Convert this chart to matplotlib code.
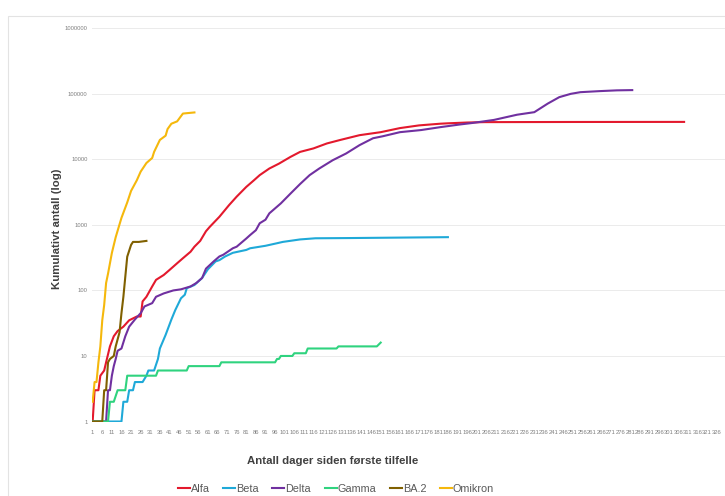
import numpy as np
import matplotlib.pyplot as plt
from matplotlib.patches import Rectangle

#------------------------------------------------------------------data
alfa_days = [1, 2, 4, 5, 7, 8, 10, 12, 14, 17, 20, 24, 26, 27, 29, 32, 34, 38, 41, 45, 48,
             52, 54, 57, 60, 62, 67, 72, 76, 81, 85, 88, 93, 98, 104, 109, 116, 123, 130,
             140, 151, 161, 171, 182, 186, 196, 205, 250, 309]
alfa_vals = [1, 3, 3, 5, 6, 8, 14, 20, 24, 28, 35, 40, 40, 68, 80, 115, 145, 172, 205, 260,
             310, 390, 465, 570, 800, 935, 1330, 2000, 2700, 3800, 4800, 5750, 7250, 8600,
             10900, 13000, 14700, 17500, 19800, 23400, 26000, 30000, 33000, 35000, 35500,
             36500, 37000, 37200, 37300]

beta_days = [1, 16, 17, 19, 20, 22, 23, 27, 29, 30, 33, 35, 36, 39, 42, 44, 47, 49, 50, 54,
             58, 61, 65, 67, 70, 74, 81, 83, 91, 97, 100, 109, 117, 135, 186]
beta_vals = [1, 1, 2, 2, 3, 3, 4, 4, 5, 6, 6, 9, 13, 21, 36, 50, 76, 86, 108, 121, 155, 210,
             277, 290, 330, 375, 415, 440, 480, 525, 550, 600, 625, 630, 650]

delta_days = [1, 8, 9, 10, 11, 12, 13, 14, 16, 18, 20, 23, 26, 28, 32, 34, 38, 43, 47, 52,
              55, 58, 60, 64, 67, 69, 74, 76, 81, 83, 86, 88, 91, 93, 99, 104, 109, 114, 119,
              126, 133, 140, 147, 152, 161, 172, 182, 192, 199, 210, 222, 231, 238, 244, 250,
              255, 265, 274, 282]
delta_vals = [1, 1, 3, 3, 5, 7, 9, 12, 13, 20, 28, 36, 45, 57, 64, 80, 90, 100, 104, 115,
              130, 155, 215, 277, 330, 350, 440, 465, 620, 700, 830, 1060, 1200, 1500, 2130,
              3000, 4200, 5750, 7250, 9700, 12300, 16500, 21000, 22500, 26000, 28000, 31000,
              34000, 36000, 40000, 48000, 52500, 71000, 89000, 100000, 106000, 110000,
              113000, 114000]

gamma_days = [1, 9, 10, 12, 14, 18, 19, 34, 35, 50, 51, 67, 68, 96, 97, 98, 99, 105, 106,
              112, 113, 128, 129, 149, 151]
gamma_vals = [1, 1, 2, 2, 3, 3, 5, 5, 6, 6, 7, 7, 8, 8, 9, 9, 10, 10, 11, 11, 13, 13, 14,
              14, 16]

ba2_days = [1, 6, 7, 8, 9, 10, 12, 13, 15, 16, 17, 18, 19, 21, 22, 25, 29]
ba2_vals = [1, 1, 3, 3, 8, 9, 10, 14, 23, 45, 80, 162, 327, 495, 550, 550, 570]

omikron_days = [1, 2, 3, 4, 5, 6, 7, 8, 9, 11, 13, 16, 19, 21, 24, 26, 29, 32, 33, 36, 39,
                40, 42, 45, 48, 51, 54]
omikron_vals = [2, 4, 4, 8, 14, 35, 60, 130, 180, 373, 650, 1280, 2200, 3300, 4800, 6500,
                8800, 10500, 13000, 19800, 23000, 29000, 35000, 38000, 50000, 51000, 52000]

series = [('Alfa', alfa_days, alfa_vals, '#e3192d'),
          ('Beta', beta_days, beta_vals, '#1fa9d8'),
          ('Delta', delta_days, delta_vals, '#7030a0'),
          ('Gamma', gamma_days, gamma_vals, '#2fd37f'),
          ('BA.2', ba2_days, ba2_vals, '#806000'),
          ('Omikron', omikron_days, omikron_vals, '#f5b80c')]

y_ticks = [1, 10, 100, 1000, 10000, 100000, 1000000]
x_ticks = list(range(1, 330, 5))

#----------------------------------------------------------------figure
fig = plt.figure(figsize=(7.25, 4.96), dpi=100)
plt.rcParams['font.family'] = ['Liberation Sans', 'DejaVu Sans']

# chart border
fig.patches.append(Rectangle((8/725, -0.1), 1.0, 1-16/496+0.1, transform=fig.transFigure,
                             fill=False, edgecolor='#e3e3e3', lw=0.8))

ax = fig.add_axes([91.7/725, 1-421.5/496, 1-91.7/725, (421.5-28.3)/496])

for name, d, v, c in series:
    ax.plot(d, v, color=c, lw=1.5, label=name)

ax.set_yscale('log')
ax.set_ylim(1, 1000000)
ax.set_xlim(0.5, 330.3)
ax.set_yticks(y_ticks)
ax.set_yticklabels([str(t) for t in y_ticks])
ax.minorticks_off()
ax.set_xticks(x_ticks)
ax.set_xticklabels([str(t) for t in x_ticks])
ax.tick_params(axis='both', length=0, labelsize=4.2, colors='#808080')
ax.tick_params(axis='y', pad=3)
ax.tick_params(axis='x', pad=6)

ax.grid(axis='y', color='#ebebeb', lw=0.7)
ax.set_axisbelow(True)
for s in ax.spines.values():
    s.set_visible(False)

#----------------------------------------------------------------labels
fig.text(57/725, 1-229/496, 'Kumulativt antall (log)', rotation=90, ha='center', va='center',
         fontsize=8.2, fontweight='bold', color='#404040')
fig.text(333/725, 1-461/496, 'Antall dager siden første tilfelle', ha='center', va='center',
         fontsize=8.2, fontweight='bold', color='#404040')

fig.legend(loc='center', bbox_to_anchor=(336/725, 1-489/496), ncol=6, frameon=False,
           fontsize=7.8, handlelength=1.1, handletextpad=0.1, columnspacing=1.25,
           labelcolor='#595959')

fig.savefig('out.png', dpi=100)
